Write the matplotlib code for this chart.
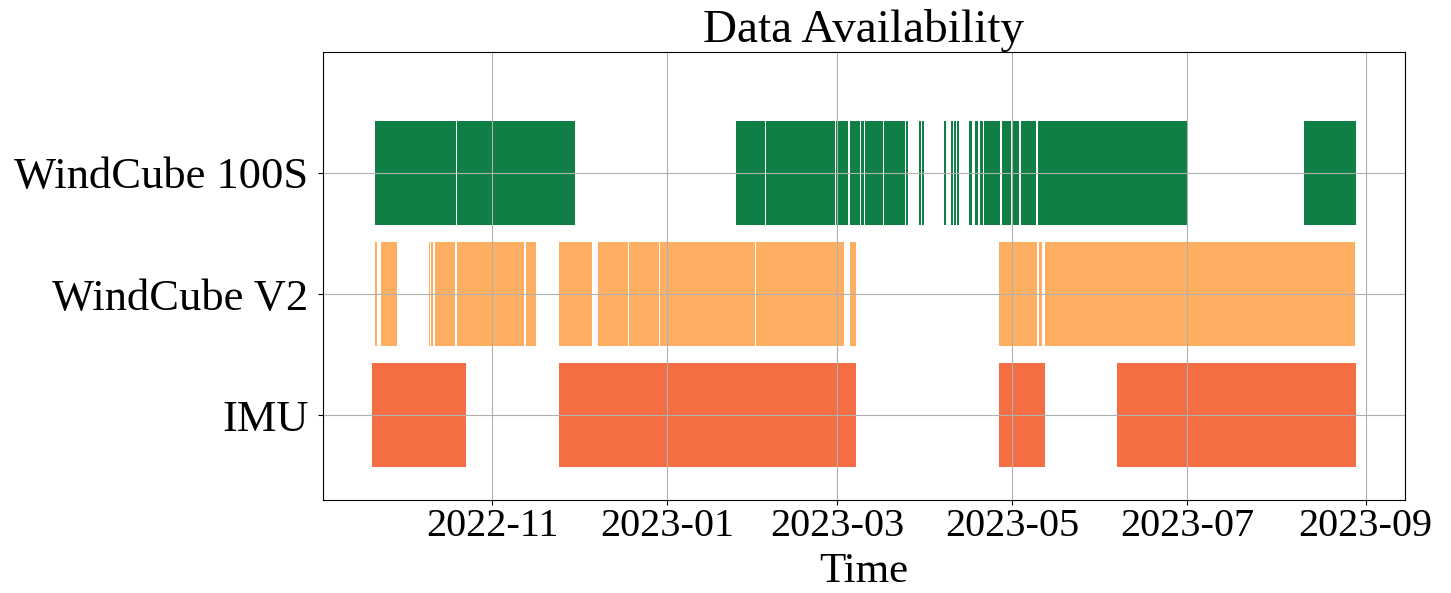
import matplotlib
matplotlib.use("Agg")
import matplotlib.pyplot as plt
import matplotlib.dates as mdates
import pandas as pd

# Instruments, bottom to top
instruments = ["IMU", "WindCube V2", "WindCube 100S"]
colors = ["#f46d43", "#fdae61", "#0f7f45"]

# Periods with recorded data (start, end)
imu_periods = [
    ("2022-09-20 07:00", "2022-10-23 02:00"),
    ("2022-11-24 10:00", "2023-03-07 17:00"),
    ("2023-04-26 11:00", "2023-05-12 11:00"),
    ("2023-06-06 12:00", "2023-08-28 14:00"),
]

v2_periods = [
    ("2022-09-21 10:00", "2022-09-22 00:00"),
    ("2022-09-23 12:00", "2022-09-29 00:00"),
    ("2022-10-09 23:00", "2022-10-10 07:00"),
    ("2022-10-10 22:00", "2022-10-11 12:00"),
    ("2022-10-12 00:00", "2022-10-19 05:00"),
    ("2022-10-19 20:00", "2022-11-12 00:00"),
    ("2022-11-12 19:00", "2022-11-16 10:00"),
    ("2022-11-24 10:00", "2022-12-05 19:00"),
    ("2022-12-07 17:00", "2022-12-18 05:00"),
    ("2022-12-18 18:00", "2022-12-28 23:00"),
    ("2022-12-29 07:00", "2023-01-31 10:00"),
    ("2023-01-31 22:00", "2023-03-03 14:00"),
    ("2023-03-05 10:00", "2023-03-07 17:00"),
    ("2023-04-26 11:00", "2023-05-09 14:00"),
    ("2023-05-10 06:00", "2023-05-11 05:00"),
    ("2023-05-12 11:00", "2023-08-28 07:00"),
]

s100_periods = [
    ("2022-09-21 10:00", "2022-10-19 14:00"),
    ("2022-10-19 23:00", "2022-10-26 19:00"),
    ("2022-10-26 22:00", "2022-11-18 22:00"),
    ("2022-11-19 01:00", "2022-11-20 17:00"),
    ("2022-11-20 20:00", "2022-11-30 00:00"),
    ("2023-01-25 00:00", "2023-02-04 02:00"),
    ("2023-02-04 05:00", "2023-02-17 14:00"),
    ("2023-02-17 17:00", "2023-02-28 05:00"),
    ("2023-02-28 19:00", "2023-03-04 19:00"),
    ("2023-03-05 11:00", "2023-03-09 02:00"),
    ("2023-03-09 13:00", "2023-03-10 12:00"),
    ("2023-03-10 20:00", "2023-03-16 22:00"),
    ("2023-03-17 11:00", "2023-03-22 12:00"),
    ("2023-03-22 16:00", "2023-03-24 18:00"),
    ("2023-03-25 02:00", "2023-03-25 14:00"),
    ("2023-03-29 14:00", "2023-03-30 07:00"),
    ("2023-03-30 14:00", "2023-03-31 05:00"),
    ("2023-04-07 07:00", "2023-04-07 20:00"),
    ("2023-04-09 18:00", "2023-04-10 08:00"),
    ("2023-04-10 15:00", "2023-04-11 10:00"),
    ("2023-04-11 20:00", "2023-04-12 12:00"),
    ("2023-04-16 00:00", "2023-04-16 22:00"),
    ("2023-04-18 02:00", "2023-04-19 00:00"),
    ("2023-04-19 17:00", "2023-04-21 00:00"),
    ("2023-04-21 05:00", "2023-04-26 19:00"),
    ("2023-04-27 10:00", "2023-04-30 15:00"),
    ("2023-05-01 07:00", "2023-05-03 05:00"),
    ("2023-05-04 02:00", "2023-05-09 07:00"),
    ("2023-05-09 22:00", "2023-05-20 00:00"),
    ("2023-05-20 03:00", "2023-06-02 22:00"),
    ("2023-06-03 01:00", "2023-06-13 00:00"),
    ("2023-06-13 03:00", "2023-06-22 19:00"),
    ("2023-06-22 22:00", "2023-06-30 22:00"),
    ("2023-08-10 12:00", "2023-08-28 14:00"),
]

periods = [imu_periods, v2_periods, s100_periods]

plt.rcParams["font.family"] = ["Liberation Serif", "DejaVu Serif"]

fig = plt.figure(figsize=(14.51, 5.93), dpi=100)
ax = fig.add_axes([0.2226, 0.1568, 0.7457, 0.756])

bar_h = 0.86
for row, (segs, col) in enumerate(zip(periods, colors)):
    spans = []
    for s, e in segs:
        t0 = mdates.date2num(pd.Timestamp(s))
        t1 = mdates.date2num(pd.Timestamp(e))
        spans.append((t0, t1 - t0))
    ax.broken_barh(spans, (row - bar_h / 2, bar_h), facecolors=col)

ax.set_ylim(-0.7, 3.0)
ax.set_yticks(range(len(instruments)))
ax.set_yticklabels(instruments, fontsize=32)
ax.tick_params(axis="y", pad=7)

ax.xaxis.set_major_locator(mdates.MonthLocator(bymonth=[1, 3, 5, 7, 9, 11]))
ax.xaxis.set_major_formatter(mdates.DateFormatter("%Y-%m"))
ax.tick_params(axis="x", labelsize=29, pad=2)
ax.set_xlabel("Time", fontsize=31, labelpad=6)
ax.set_title("Data Availability", fontsize=34, pad=4)
ax.grid(True)

fig.savefig("out.png", dpi=100)
